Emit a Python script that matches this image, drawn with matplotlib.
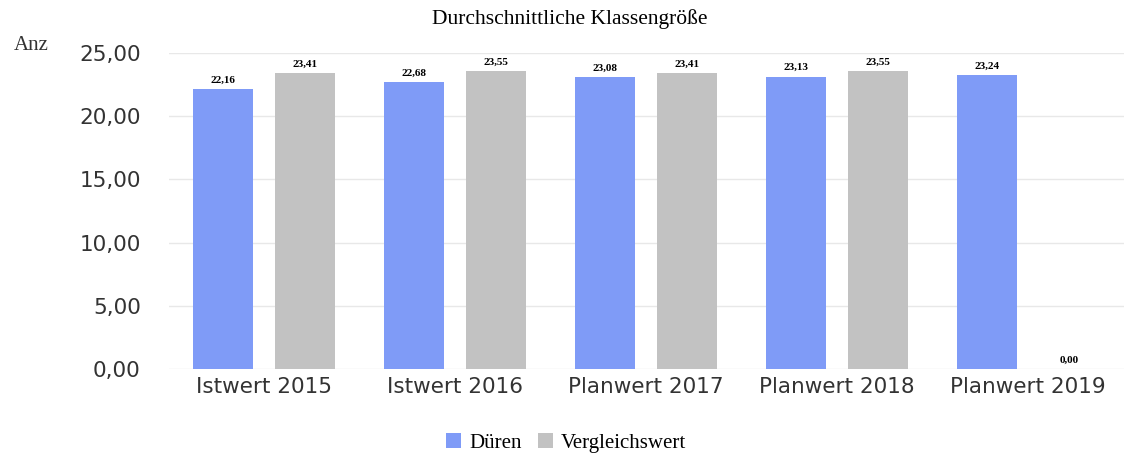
import numpy as np
import matplotlib.pyplot as plt

categories = ['Istwert 2015', 'Istwert 2016', 'Planwert 2017', 'Planwert 2018', 'Planwert 2019']
dueren = [22.16, 22.68, 23.08, 23.13, 23.24]
vergleich = [23.41, 23.55, 23.41, 23.55, 0.00]
yticks = [0, 5, 10, 15, 20, 25]

serif = 'Liberation Serif'
blue = '#7f9bf7'
gray = '#c2c2c2'

fig = plt.figure(figsize=(11.44, 4.59), dpi=100)
ax = fig.add_axes([0.1473, 0.196, 0.8348, 0.6885])

x = np.arange(len(categories))
w = 60 / 191.0
off = 41 / 191.0
b1 = ax.bar(x - off, dueren, w, color=blue, label='Düren', zorder=2)
b2 = ax.bar(x + off, vergleich, w, color=gray, label='Vergleichswert', zorder=2)

def fmt(v):
    return ('%.2f' % v).replace('.', ',')

for bars, vals in [(b1, dueren), (b2, vergleich)]:
    for r, v in zip(bars, vals):
        ax.text(r.get_x() + r.get_width() / 2, v + 0.35, fmt(v), ha='center', va='bottom',
                fontsize=8, family=serif, fontweight='bold', clip_on=False)

ax.set_xlim(-0.5, len(categories) - 0.5)
ax.set_ylim(0, 25)
ax.set_yticks(yticks)
ax.set_yticklabels([fmt(t) for t in yticks], fontsize=15.5, color='#333333')
ax.set_xticks(x)
ax.set_xticklabels(categories, fontsize=15.5, color='#333333')
ax.tick_params(length=0, pad=6)
ax.tick_params(axis='y', pad=20)
for s in ax.spines.values():
    s.set_visible(False)
ax.yaxis.grid(True, color='#e8e8e8', lw=1, zorder=0)

fig.text(0.498, 0.958, 'Durchschnittliche Klassengröße', ha='center', va='center',
         fontsize=15.5, family=serif)
fig.text(0.012, 0.9, 'Anz', ha='left', va='center', fontsize=15, family=serif, color='#333333')

fig.legend(loc='center', bbox_to_anchor=(0.495, 0.035), ncol=2, frameon=False,
           prop={'family': serif, 'size': 15}, handlelength=0.7, handleheight=0.7,
           handletextpad=0.4, columnspacing=0.8)

fig.savefig('out.png', dpi=100)
